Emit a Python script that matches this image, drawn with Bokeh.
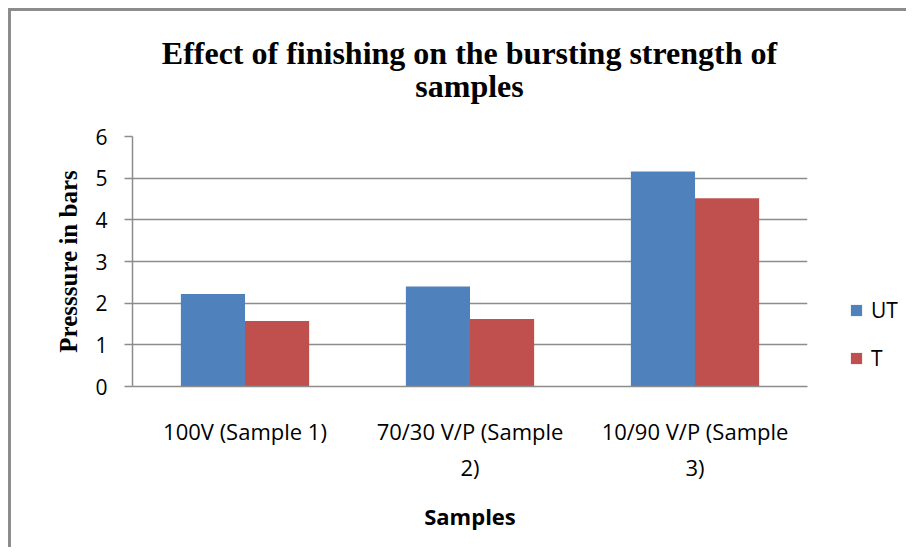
from bokeh.plotting import figure
from bokeh.layouts import row, column
from bokeh.models import (FactorRange, Range1d, Legend, LegendItem, Label, FixedTicker,
                          ColumnDataSource)
from bokeh.transform import dodge
from bokeh.embed import file_html
from bokeh.resources import INLINE

categories = ["100V (Sample 1)", "70/30 V/P (Sample\n2)", "10/90 V/P (Sample\n3)"]
series = ["UT", "T"]
ut_values = [2.22, 2.40, 5.16]
t_values = [1.57, 1.62, 4.52]
y_ticks = [0, 1, 2, 3, 4, 5, 6]
colors = ["#4F81BD", "#C0504D"]
title_lines = ["Effect of finishing on the bursting strength of", "samples"]

src = ColumnDataSource(dict(cat=categories, UT=ut_values, T=t_values))

# title strip
t = figure(width=895, height=100, output_backend="svg", toolbar_location=None,
           x_range=Range1d(0, 895), y_range=Range1d(0, 100),
           x_axis_type=None, y_axis_type=None, min_border=0)
t.grid.grid_line_color = None
t.outline_line_color = None
for txt, yy in zip(title_lines, [59, 26]):
    t.add_layout(Label(x=458, y=yy, text=txt, text_align="center", text_baseline="middle",
                       text_font="Liberation Serif", text_font_style="bold",
                       text_font_size="32px", text_color="black"))

p = figure(x_range=FactorRange(*categories), y_range=Range1d(0, 6),
           width=804, height=436, output_backend="svg", toolbar_location=None,
           min_border_left=121, min_border_right=8, min_border_top=25,
           min_border_bottom=161)

bw = 0.285
r1 = p.vbar(x=dodge("cat", -bw / 2, range=p.x_range), top=series[0], width=bw,
            source=src, fill_color=colors[0], line_color=None)
r2 = p.vbar(x=dodge("cat", bw / 2, range=p.x_range), top=series[1], width=bw,
            source=src, fill_color=colors[1], line_color=None)

grid_c = "#8c8c8c"
p.xgrid.grid_line_color = None
p.ygrid.grid_line_color = grid_c
p.ygrid.grid_line_width = 1.5
p.outline_line_color = None

p.yaxis.ticker = FixedTicker(ticks=y_ticks)
p.yaxis.axis_line_color = grid_c
p.yaxis.axis_line_width = 1.5
p.yaxis.major_tick_line_color = grid_c
p.yaxis.major_tick_line_width = 1.5
p.yaxis.major_tick_out = 8
p.yaxis.major_tick_in = 0
p.yaxis.minor_tick_line_color = None
p.yaxis.major_label_text_font = "Open Sans"
p.yaxis.major_label_text_font_size = "21px"
p.yaxis.major_label_text_color = "black"
p.yaxis.major_label_standoff = 17
p.yaxis.axis_label = "Presssure in bars"
p.yaxis.axis_label_text_font = "Liberation Serif"
p.yaxis.axis_label_text_font_style = "bold"
p.yaxis.axis_label_text_font_size = "25px"
p.yaxis.axis_label_text_color = "black"
p.yaxis.axis_label_standoff = 10

xa = p.below[0]
xa.axis_line_color = grid_c
xa.axis_line_width = 1.5
xa.major_tick_line_color = None
xa.minor_tick_line_color = None
xa.major_label_text_font = "Open Sans"
xa.major_label_text_font_size = "22px"
xa.major_label_text_color = "black"
xa.major_label_standoff = 23
xa.axis_label = "Samples"
xa.axis_label_text_font = "Open Sans"
xa.axis_label_text_font_style = "bold"
xa.axis_label_text_font_size = "22px"
xa.axis_label_text_color = "black"
xa.axis_label_standoff = 16

# legend panel (its bars have zero width and lie outside its visible range)
q = figure(width=91, height=436, output_backend="svg", toolbar_location=None,
           x_range=FactorRange(*categories), y_range=Range1d(-2, -1),
           x_axis_type=None, y_axis_type=None, min_border=0)
q.grid.grid_line_color = None
q.outline_line_color = None
l1 = q.vbar(x="cat", top=series[0], width=0, source=src, fill_color=colors[0], line_color=None)
l2 = q.vbar(x="cat", top=series[1], width=0, source=src, fill_color=colors[1], line_color=None)
legend = Legend(items=[LegendItem(label=series[0], renderers=[l1]),
                       LegendItem(label=series[1], renderers=[l2])],
                location=(34, 14), orientation="vertical",
                glyph_width=14, glyph_height=14, label_standoff=8, spacing=20,
                padding=0, margin=0, border_line_color=None, background_fill_alpha=0,
                label_text_font="Open Sans", label_text_font_size="21px",
                label_text_color="black")
q.add_layout(legend, "center")

layout = column(t, row(p, q))
layout.styles = {"border-left": "3px solid #8c8c8c", "border-top": "3px solid #8c8c8c",
                 "margin-left": "8px", "margin-top": "8px"}

open("out.html", "w").write(file_html(layout, INLINE))
